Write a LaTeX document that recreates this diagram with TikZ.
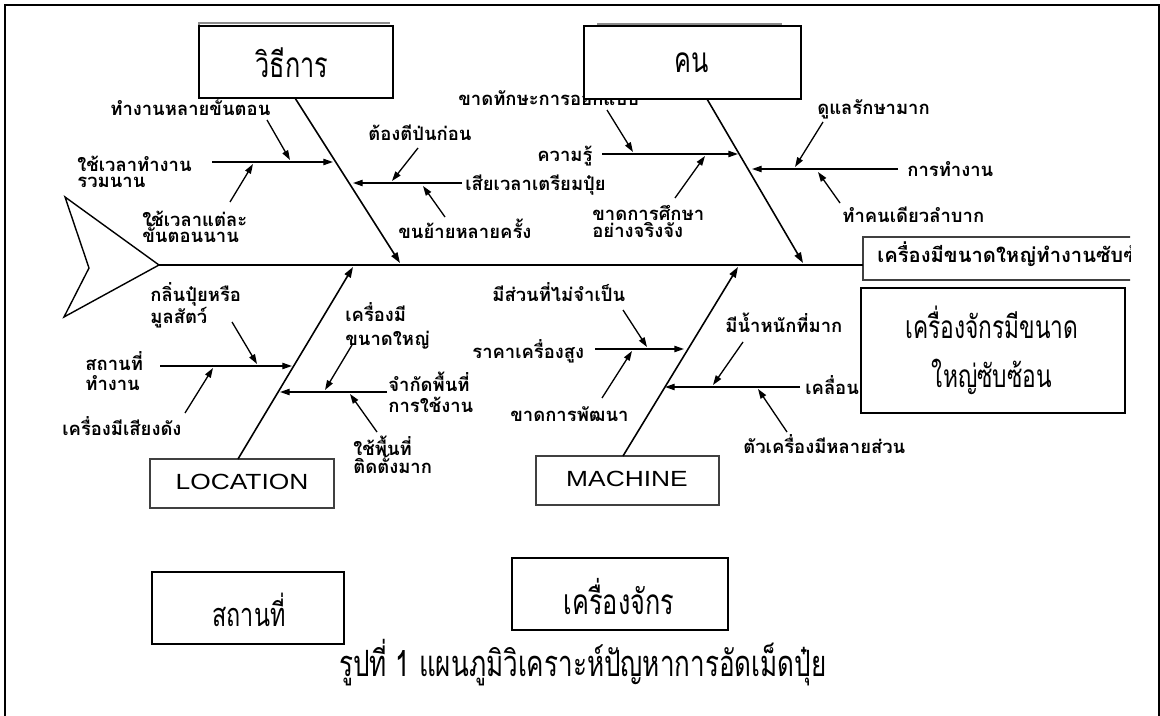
\documentclass[tikz,border=0pt]{standalone}
\usepackage{fontspec}
\usetikzlibrary{arrows.meta,fit}
\newfontfamily\thailbl[Script=Thai]{Loma}
\newfontfamily\thaicond[Script=Thai,FakeStretch=0.72]{Loma}
\newfontfamily\latinsans[FakeStretch=1.2]{Liberation Sans}
\tikzset{
  lbl/.style={font=\thailbl\bfseries\fontsize{10.5}{9.6}\selectfont, inner sep=0pt, anchor=base west, align=left},
  headlbl/.style={font=\thailbl\bfseries\fontsize{11.5}{14}\selectfont, inner sep=0pt, anchor=base west},
  bone/.style={line width=0.9pt, -{Triangle[length=6pt,width=4pt]}},
  sub/.style={line width=0.75pt, -{Triangle[length=5.5pt,width=3.6pt]}},
  thickbox/.style={draw, line width=1.2pt, fill=white, inner sep=0pt},
  thinbox/.style={draw=black!75, line width=0.8pt, fill=white, inner sep=0pt},
  title/.style={font=\thaicond\fontsize{20}{28}\selectfont, inner sep=0pt, align=center},
  latin/.style={font=\latinsans\fontsize{12.5}{14}\selectfont, inner sep=0pt},
  shadowline/.style={draw=black!45, line width=0.9pt},
}
\begin{document}
\lineskiplimit=-30pt\relax
\begin{tikzpicture}[x=0.02cm, y=-0.02cm]
\useasboundingbox (0,0) rectangle (1160,716);
% outer frame
\draw[line width=1pt] (5,716) -- (5,5) -- (1159,5) -- (1159,716);

% fish head
\coordinate (hTop) at (65,197);
\coordinate (hNotch) at (89,268);
\coordinate (hBot) at (64,317);
\coordinate (hTip) at (159,265);
\draw[line width=0.8pt] (hTip) -- (hTop) -- (hNotch) -- (hBot) -- cycle;

% ---------- labels (drawn before boxes that cover them) ----------
% single-line nodes: y = baseline; multi-line nodes: y = baseline of last line
\node[lbl] (l1) at (110,116) {ทำงานหลายขั้นตอน};
\node[lbl] (l2) at (77,188) {ใช้เวลาทำงาน\\รวมนาน};
\node[lbl] (l3) at (142,243) {ใช้เวลาแต่ละ\\ขั้นตอนนาน};
\node[lbl] (l4) at (368,141) {ต้องตีป่นก่อน};
\node[lbl] (l5) at (465,191) {เสียเวลาเตรียมปุ๋ย};
\node[lbl] (l6) at (398,239) {ขนย้ายหลายครั้ง};
\node[lbl] (l7) at (458,106) {ขาดทักษะการออกแบบ};
\node[lbl] (l8) at (537,162) {ความรู้};
\node[lbl] (l9) at (592,238) {ขาดการศึกษา\\[0.6pt]อย่างจริงจัง};
\node[lbl] (l10) at (817,115) {ดูแลรักษามาก};
\node[lbl] (l11) at (907,177) {การทำงาน};
\node[lbl] (l12) at (842,223) {ทำคนเดียวลำบาก};
\node[lbl] (l13) at (150,323) {กลิ่นปุ๋ยหรือ\\[2.8pt]มูลสัตว์};
\node[lbl] (l14) at (85,390) {สถานที่\\[1.7pt]ทำงาน};
\node[lbl] (l15) at (62,435) {เครื่องมีเสียงดัง};
\node[lbl] (l16) at (345,345) {เครื่องมี\\[4pt]ขนาดใหญ่};
\node[lbl] (l17) at (388,412) {จำกัดพื้นที่\\[2.2pt]การใช้งาน};
\node[lbl] (l18) at (353,473) {ใช้พื้นที่\\[0.6pt]ติดตั้งมาก};
\node[lbl] (l19) at (492,301) {มีส่วนที่ไม่จำเป็น};
\node[lbl] (l20) at (472,358) {ราคาเครื่องสูง};
\node[lbl] (l21) at (510,421) {ขาดการพัฒนา};
\node[lbl] (l22) at (725,333) {มีน้ำหนักที่มาก};
\node[lbl] (l23) at (805,395) {เคลื่อนย้ายยาก};
\node[lbl] (l24) at (743,453) {ตัวเครื่องมีหลายส่วน};

% ---------- boxes ----------
\draw[shadowline] (199,78) -- (199,23) -- (390,23);
\draw[shadowline] (597,24) -- (782,24);
\node[thickbox, fit={(199,26) (393,98)}] (method) {};
\node[title] (tmethod) at (292,63) {วิธีการ};
\node[thickbox, fit={(584,26) (801,99)}] (man) {};
\node[title] (tman) at (692,63) {คน};
\node[thickbox, fit={(861,288) (1125,413)}] (result) {};
\node[title, font=\thaicond\fontsize{18}{28}\selectfont] (tresult) at (992,350) {เครื่องจักรมีขนาด\\[0pt]ใหญ่ซับซ้อน};
\node[thinbox, fit={(150,459) (334,508)}] (loc) {};
\node[latin] (tloc) at (242,482) {LOCATION};
\node[thinbox, fit={(536,456) (719,505)}] (mac) {};
\node[latin] (tmac) at (627,479) {MACHINE};
\node[thickbox, fit={(152,572) (344,644)}] (place) {};
\node[title, font=\thaicond\fontsize{18.5}{22}\selectfont] (tplace) at (249,610) {สถานที่};
\node[thickbox, fit={(512,558) (728,630)}] (machine) {};
\node[title] (tmachine) at (619,597) {เครื่องจักร};
\node[title, font=\thaicond\fontsize{20.6}{24}\selectfont] (caption) at (583,663) {รูปที่ 1 แผนภูมิวิเคราะห์ปัญหาการอัดเม็ดปุ๋ย};

% head label box (clipped at the right)
\begin{scope}
\clip (0,0) rectangle (1130,716);
\node[thinbox, fit={(863,237) (1180,280)}] (head) {};
\node[headlbl] (thead) at (877,263) {เครื่องมีขนาดใหญ่ทำงานซับซ้อน};
\end{scope}

% ---------- spine and bones ----------
\coordinate (spineEnd) at (863,265);
\draw[line width=0.9pt] (hTip) -- (spineEnd);
\coordinate (mS) at (295,98);  \coordinate (mE) at (400,263);
\coordinate (pS) at (707,99);  \coordinate (pE) at (803,263);
\coordinate (lS) at (238,459); \coordinate (lE) at (353,267);
\coordinate (cS) at (623,456); \coordinate (cE) at (738,267);
\draw[bone] (mS) -- (mE);
\draw[bone] (pS) -- (pE);
\draw[bone] (lS) -- (lE);
\draw[bone] (cS) -- (cE);

% ---------- sub-branches ----------
% method
\coordinate (h1a) at (212,162); \coordinate (h1b) at (333,162);
\coordinate (d1a) at (267,120); \coordinate (d1b) at (290,160);
\coordinate (d2a) at (230,202); \coordinate (d2b) at (253,164);
\coordinate (h2a) at (462,183); \coordinate (h2b) at (353,183);
\coordinate (d3a) at (418,148); \coordinate (d3b) at (392,181);
\coordinate (d4a) at (445,217); \coordinate (d4b) at (423,186);
% man
\coordinate (h3a) at (602,154); \coordinate (h3b) at (738,154);
\coordinate (d5a) at (607,110); \coordinate (d5b) at (633,152);
\coordinate (d6a) at (675,198); \coordinate (d6b) at (705,156);
\coordinate (h4a) at (898,169); \coordinate (h4b) at (752,169);
\coordinate (d7a) at (823,122); \coordinate (d7b) at (795,167);
\coordinate (d8a) at (840,203); \coordinate (d8b) at (818,172);
% location
\coordinate (h5a) at (160,366); \coordinate (h5b) at (292,366);
\coordinate (d9a) at (232,322); \coordinate (d9b) at (257,364);
\coordinate (d10a) at (185,413); \coordinate (d10b) at (213,368);
\coordinate (h6a) at (387,392); \coordinate (h6b) at (280,392);
\coordinate (d11a) at (352,345); \coordinate (d11b) at (325,390);
\coordinate (d12a) at (377,432); \coordinate (d12b) at (350,394);
% machine
\coordinate (h7a) at (595,349); \coordinate (h7b) at (684,349);
\coordinate (d13a) at (623,310); \coordinate (d13b) at (647,347);
\coordinate (d14a) at (602,398); \coordinate (d14b) at (632,351);
\coordinate (h8a) at (800,387); \coordinate (h8b) at (665,387);
\coordinate (d15a) at (743,342); \coordinate (d15b) at (713,385);
\coordinate (d16a) at (787,432); \coordinate (d16b) at (758,389);

\foreach \a/\b in {h1a/h1b,d1a/d1b,d2a/d2b,h2a/h2b,d3a/d3b,d4a/d4b,
                   h3a/h3b,d5a/d5b,d6a/d6b,h4a/h4b,d7a/d7b,d8a/d8b,
                   h5a/h5b,d9a/d9b,d10a/d10b,h6a/h6b,d11a/d11b,d12a/d12b,
                   h7a/h7b,d13a/d13b,d14a/d14b,h8a/h8b,d15a/d15b,d16a/d16b}
  \draw[sub] (\a) -- (\b);
\end{tikzpicture}
\end{document}
